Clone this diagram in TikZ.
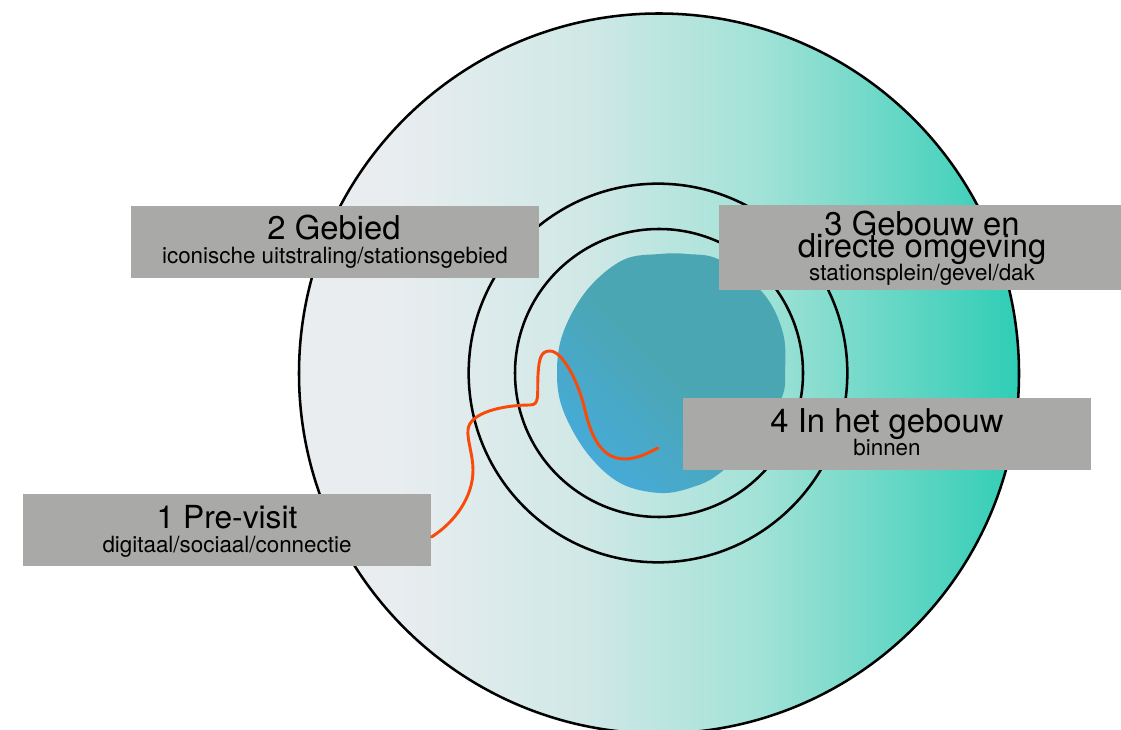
\documentclass[tikz,border=0pt]{standalone}
\usepackage{fontspec}
\setmainfont{TeX Gyre Heros}
\definecolor{boxgrey}{HTML}{A9A9A7}
\definecolor{curvered}{HTML}{F9490B}
\definecolor{bloba}{HTML}{46ABDB}
\definecolor{blobb}{HTML}{4BA6B3}
\tikzset{
  x=0.75pt,y=-0.75pt,
  discline/.style={circle,draw=black,line width=1.9pt,inner sep=0pt,outer sep=0pt},
  labelbox/.style={fill=boxgrey,draw=none,inner sep=0pt,anchor=north west},
  bigtext/.style={font=\fontsize{24.6}{24.6}\selectfont,anchor=base},
  smalltext/.style={font=\fontsize{16.8}{17}\selectfont,anchor=base},
  route/.style={draw=curvered,line width=2.2pt,line cap=round}
}
\begin{document}
\begin{tikzpicture}
\useasboundingbox (0,0) rectangle (1121,730);
\clip (0,0) rectangle (1121,730);
% disc
\begin{scope}
  \clip (659,373) circle [radius=360];
  \foreach \xa/\xb/\ca/\cb in {298/385/EAEDF0/EAEDF0,385/590/EAEDF0/CFE8E6,590/760/CFE8E6/A2E2D7,760/1019/A2E2D7/2FCDB5}{
    \definecolor{ca}{HTML}{\ca}\definecolor{cb}{HTML}{\cb}
    \shade[left color=ca,right color=cb] (\xa-0.5,13) rectangle (\xb+0.5,733);
  }
\end{scope}
\node[discline,minimum size=540pt] (disc) at (659,373.5) {};
\node[discline,minimum size=284pt] (ringa) at (658,373) {};
\node[discline,minimum size=216pt] (ringb) at (659,373) {};
% blob
\begin{scope}
\clip plot[smooth cycle,tension=0.6] coordinates {
 (660,254) (623,260) (587,290) (563,333) (557,373) (563,410) (587,453)
 (620,483) (660,493) (693,487) (720,473) (760,435) (782,397) (785,373)
 (783,333) (763,293) (720,260) (687,254)};
\shade[bottom color=bloba,top color=blobb,middle color=blobb,shading angle=-45]
 (540,240) rectangle (800,500);
\end{scope}
% boxes
\node[labelbox,minimum width=306pt,minimum height=54pt] (box1) at (23,494) {};
\node[labelbox,minimum width=306pt,minimum height=54pt] (box2) at (131,206) {};
\node[labelbox,minimum width=301.5pt,minimum height=63.75pt] (box3) at (719,205) {};
\node[labelbox,minimum width=306pt,minimum height=54pt] (box4) at (683,398) {};
% route
\coordinate (routeend) at (658,448);
\draw[route] (box1.east |- 0,537) .. controls (455,522) and (473,497) .. (473,470)
  .. controls (473,455) and (467,440) .. (468,430)
  .. controls (469,412) and (505,405) .. (530,405)
  .. controls (540,405) and (537,395) .. (538,375)
  .. controls (539,358) and (541,351) .. (550,351)
  .. controls (562,351) and (578,380) .. (585,410)
  .. controls (592,440) and (603,459) .. (625,459)
  .. controls (637,459) and (648,453) .. (routeend);
% labels
\node[bigtext,font=\fontsize{23.8}{24}\selectfont] (t1) at (227,529) {1 Pre-visit};
\node[smalltext] (s1) at (227,552) {digitaal/sociaal/connectie};
\node[bigtext] (t2) at (334,240) {2 Gebied};
\node[smalltext] (s2) at (335,264) {iconische uitstraling/stationsgebied};
\node[bigtext] (t3a) at (922,236) {3 Gebouw en};
\node[bigtext] (t3b) at (922,258) {directe omgeving};
\node[smalltext] (s3) at (922,281) {stationsplein/gevel/dak};
\node[bigtext] (t4) at (887,433) {4 In het gebouw};
\node[smalltext] (s4) at (887,456) {binnen};
\end{tikzpicture}
\end{document}
